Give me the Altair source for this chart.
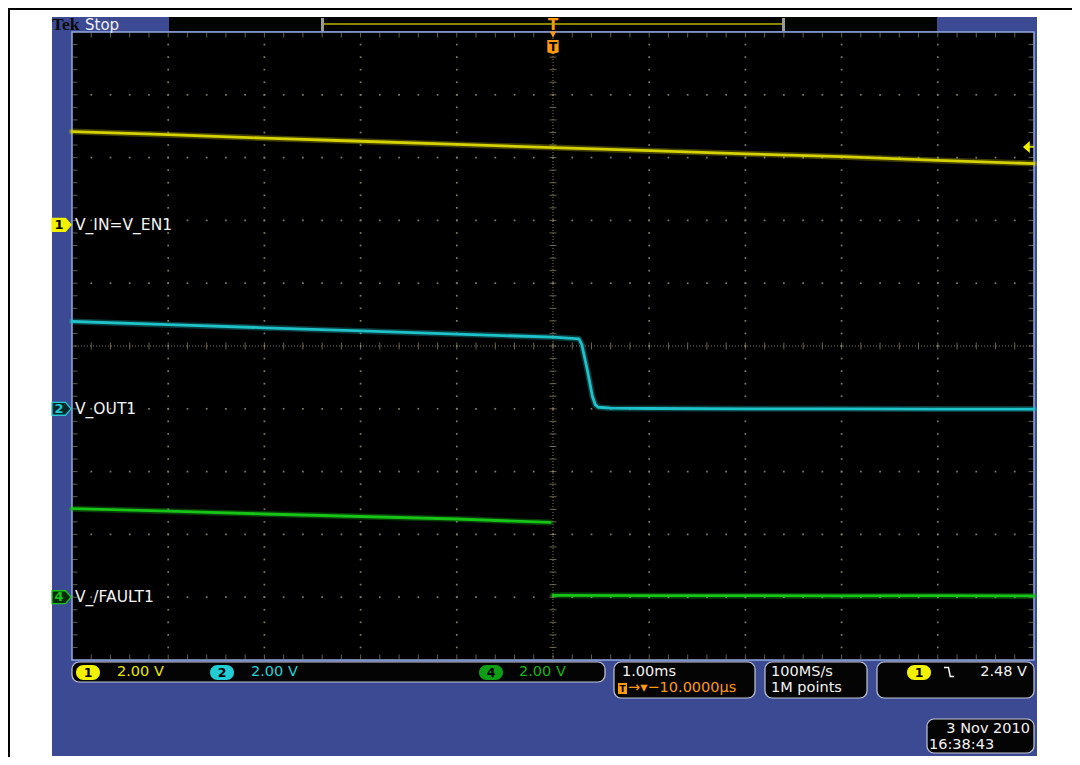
import altair as alt
import numpy as np
import pandas as pd

# ------------------------------------------------------------------
# Values
# time in ms (1.00 ms/div, trigger at t = 0), amplitudes in volts
# ------------------------------------------------------------------
t_ch1 = [-5, -4, -3, -2, -1, 0, 1, 2, 3, 4, 5]
v_ch1 = [2.97, 2.87, 2.76, 2.66, 2.56, 2.46, 2.36, 2.26, 2.17, 2.05, 1.95]

t_ch2 = [-5, -4, -3, -2, -1, 0, 0.27, 0.30, 0.36, 0.41, 0.44, 0.47, 0.6, 1, 2, 3, 4, 5]
v_ch2 = [2.78, 2.68, 2.58, 2.48, 2.38, 2.28, 2.23, 2.04, 1.19, 0.39, 0.13, 0.05, 0.02,
         0.01, 0.0, 0.0, -0.01, -0.01]

t_ch4_high = [-5, -4, -3, -2, -1, -0.03]
v_ch4_high = [2.82, 2.74, 2.65, 2.57, 2.49, 2.38]
t_ch4_low = [0.0, 1, 2, 3, 4, 5]
v_ch4_low = [0.06, 0.05, 0.05, 0.04, 0.05, 0.04]

channel_ids = ["1", "2", "4"]
channel_labels = ["V_IN=V_EN1", "V_OUT1", "V_/FAULT1"]
channel_offset_div = [1.93, -1.0, -4.0]      # ground-marker positions (divisions)
volts_per_div = [2.0, 2.0, 2.0]

trigger_level_v = 2.48
time_per_div = "1.00ms"
horiz_position = "\u221210.0000\u00b5s"
sample_rate = "100MS/s"
record_length = "1M points"
date_text = "3 Nov 2010"
time_text = "16:38:43"

# ------------------------------------------------------------------
# styling
# ------------------------------------------------------------------
W, H = 962, 628          # graticule size in px
X0, Y0 = 72, 32          # graticule top-left on the page


def px(x):
    return x - X0


def py(y):
    return y - Y0


trace_colors = ["#d6d200", "#1fc2c9", "#17c417"]
NAVY = "#3c4a94"
FONT = "DejaVu Sans"

xs = alt.Scale(domain=[-5, 5], nice=False, zero=False)
ys = alt.Scale(domain=[-5, 5], nice=False, zero=False)

one = pd.DataFrame({"k": [0]})


def box(x1, y1, x2, y2, fill, stroke="#000000", sw=0, r=0):
    return alt.Chart(one).mark_rect(
        fill=fill, stroke=stroke, strokeWidth=sw, cornerRadius=r, opacity=1
    ).encode(x=alt.value(px(x1)), x2=alt.value(px(x2)),
             y=alt.value(py(y1)), y2=alt.value(py(y2)))


def txt(s, x, y, color, size, align="left", weight="normal", font=FONT):
    return alt.Chart(one).mark_text(
        text=s, align=align, baseline="middle", color=color,
        fontSize=size, font=font, fontWeight=weight
    ).encode(x=alt.value(px(x)), y=alt.value(py(y)))


layers = []

# page frame, navy bezel, record bar, black graticule area
layers.append(box(8, 8, 1072, 10, "#000000"))
layers.append(box(8, 8, 10, 757, "#000000"))
layers.append(box(52, 17, 1037, 756, NAVY))
layers.append(box(169, 17, 937, 31, "#020402"))
layers.append(box(72, 32, 1034, 660, "#000000", stroke="#93a9e0", sw=1.5))

# ------------------------------------------------------------------
# graticule
# ------------------------------------------------------------------
subs = [round(-5 + 0.2 * k, 2) for k in range(1, 50)]
divs = [-4, -3, -2, -1, 1, 2, 3, 4]
gx, gy = [], []
for d in divs:
    for s in subs:
        gx.append(d); gy.append(s)
        gx.append(s); gy.append(d)
grid = pd.DataFrame({"gx": gx, "gy": gy})
layers.append(alt.Chart(grid).mark_square(size=3, color="#7c7c6a", opacity=1).encode(
    x=alt.X("gx:Q", scale=xs, axis=None), y=alt.Y("gy:Q", scale=ys, axis=None)))

sub_df = pd.DataFrame({"s": subs})
# centre cross (dotted)
layers.append(alt.Chart(one).mark_rule(color="#7d7560", strokeDash=[1, 2], strokeWidth=1).encode(
    x=alt.X(datum=0, scale=xs, axis=None), y=alt.Y(datum=-5, scale=ys, axis=None), y2=alt.Y2(datum=5)))
layers.append(alt.Chart(one).mark_rule(color="#7d7560", strokeDash=[1, 2], strokeWidth=1).encode(
    y=alt.Y(datum=0, scale=ys, axis=None), x=alt.X(datum=-5, scale=xs, axis=None), x2=alt.X2(datum=5)))
layers.append(alt.Chart(sub_df).mark_tick(orient="horizontal", size=7, thickness=1, color="#958c6c").encode(
    x=alt.X(datum=0, scale=xs, axis=None), y=alt.Y("s:Q", scale=ys, axis=None)))
layers.append(alt.Chart(sub_df).mark_tick(orient="vertical", size=7, thickness=1, color="#958c6c").encode(
    y=alt.Y(datum=0, scale=ys, axis=None), x=alt.X("s:Q", scale=xs, axis=None)))
# edge ticks
for edge, off in [(5, 3), (-5, -3)]:
    layers.append(alt.Chart(sub_df).mark_tick(orient="vertical", size=5, thickness=1,
                                              color="#8a8a78", yOffset=off).encode(
        y=alt.Y(datum=edge, scale=ys, axis=None), x=alt.X("s:Q", scale=xs, axis=None)))
for edge, off in [(-5, 3), (5, -3)]:
    layers.append(alt.Chart(sub_df).mark_tick(orient="horizontal", size=5, thickness=1,
                                              color="#8a8a78", xOffset=off).encode(
        x=alt.X(datum=edge, scale=xs, axis=None), y=alt.Y("s:Q", scale=ys, axis=None)))

# ------------------------------------------------------------------
# traces
# ------------------------------------------------------------------
def trace(ch, seg, ts, vs):
    i = channel_ids.index(ch)
    return pd.DataFrame({
        "channel": ch, "seg": ch + seg, "t": ts, "v": vs,
        "div": [channel_offset_div[i] + v / volts_per_div[i] for v in vs]})


traces = pd.concat([
    trace("1", "a", t_ch1, v_ch1),
    trace("2", "a", t_ch2, v_ch2),
    trace("4", "a", t_ch4_high, v_ch4_high),
    trace("4", "b", t_ch4_low, v_ch4_low),
], ignore_index=True)

color_enc = alt.Color("channel:N", scale=alt.Scale(domain=channel_ids, range=trace_colors), legend=None)
for sw, op in [(6, 0.3), (2.8, 1.0)]:
    layers.append(alt.Chart(traces).mark_line(strokeWidth=sw, opacity=op, strokeCap="round",
                                              strokeJoin="round").encode(
        x=alt.X("t:Q", scale=xs, axis=None),
        y=alt.Y("div:Q", scale=ys, axis=None),
        color=color_enc, detail="seg:N", order="t:Q"))

# ------------------------------------------------------------------
# channel ground markers and labels
# ------------------------------------------------------------------
markers = pd.DataFrame({"ch": channel_ids, "name": channel_labels, "pos": channel_offset_div})
PENT = "M-1,-0.68 L0.42,-0.68 L1,0 L0.42,0.68 L-1,0.68 Z"
marker_style = {"1": ("#f2f200", "#f2f200", "#000000"),
                "2": ("#06262a", "#22c8d0", "#22c8d0"),
                "4": ("#052a05", "#19c419", "#19c419")}
for ch in channel_ids:
    fill, stroke, tcol = marker_style[ch]
    base = alt.Chart(markers).transform_filter(alt.datum.ch == ch)
    layers.append(base.mark_point(shape=PENT, size=361, filled=True, fill=fill, stroke=stroke,
                                  strokeWidth=1.3, opacity=1).encode(
        x=alt.value(-10.5), y=alt.Y("pos:Q", scale=ys, axis=None)))
    layers.append(base.mark_text(align="center", baseline="middle", color=tcol, fontSize=13,
                                 font=FONT, fontWeight="bold").encode(
        x=alt.value(-13), y=alt.Y("pos:Q", scale=ys, axis=None), text="ch:N"))
layers.append(alt.Chart(markers).mark_text(align="left", baseline="middle", color="#f4f4f4",
                                           fontSize=15.5, font=FONT).encode(
    x=alt.value(3), y=alt.Y("pos:Q", scale=ys, axis=None), text="name:N"))

# trigger level arrow on the right edge
trig_div = channel_offset_div[0] + trigger_level_v / volts_per_div[0]
layers.append(alt.Chart(one).mark_point(shape="M0.55,-1 L-0.6,0 L0.55,1 Z", size=144, filled=True,
                                        color="#f0f000", opacity=1).encode(
    x=alt.value(px(1026.5)), y=alt.Y(datum=trig_div, scale=ys, axis=None)))
layers.append(alt.Chart(one).mark_rule(color="#f0f000", strokeWidth=1.5).encode(
    x=alt.value(px(1029)), x2=alt.value(px(1034)), y=alt.Y(datum=trig_div, scale=ys, axis=None)))

# trigger position markers (top)
layers.append(alt.Chart(one).mark_text(text="T", color="#ff9a10", fontSize=15, font=FONT,
                                       fontWeight="bold", baseline="middle", align="center").encode(
    x=alt.X(datum=0, scale=xs, axis=None), y=alt.value(py(25))))
layers.append(alt.Chart(one).mark_point(shape="triangle-down", size=45, filled=True,
                                        color="#ff9a10", opacity=1).encode(
    x=alt.X(datum=0, scale=xs, axis=None), y=alt.value(py(34.5))))
layers.append(alt.Chart(one).mark_point(shape="M-0.8,-1 L0.8,-1 L0.8,0.75 L0,1 L-0.8,0.75 Z",
                                        size=200, filled=True, color="#ff9a10", opacity=1).encode(
    x=alt.X(datum=0, scale=xs, axis=None), y=alt.value(py(47))))
layers.append(alt.Chart(one).mark_text(text="T", color="#000000", fontSize=12, font=FONT,
                                       fontWeight="bold", baseline="middle", align="center").encode(
    x=alt.X(datum=0, scale=xs, axis=None), y=alt.value(py(47))))

# record-view bar
layers.append(box(321, 18, 324, 31, "#9a9a9a"))
layers.append(box(782, 18, 785, 31, "#9a9a9a"))
layers.append(alt.Chart(one).mark_rule(color="#b8b200", strokeWidth=1.5).encode(
    x=alt.value(px(324)), x2=alt.value(px(782)), y=alt.value(py(24))))

# Tek Stop
layers.append(txt("Tek", 52, 25, "#0a0a0a", 17.5, weight="bold", font="Liberation Serif"))
layers.append(txt("Stop", 85, 25, "#f0f0f0", 15))

# ------------------------------------------------------------------
# bottom status readouts
# ------------------------------------------------------------------
BORDER = "#c4c8d4"
layers.append(box(72, 662, 605, 682, "#040404", stroke=BORDER, sw=1.2, r=7))
pill_cols = ["#f2f200", "#22ccd4", "#0e9e16"]
text_cols = ["#e8e800", "#28d0d8", "#17b417"]
pill_x = [(76, 100), (210, 234), (479, 503)]
text_x = [117, 251, 519]
for i in range(3):
    x1, x2 = pill_x[i]
    layers.append(box(x1, 665, x2, 680, pill_cols[i], r=7.5))
    layers.append(txt(channel_ids[i], (x1 + x2) / 2, 672.5, "#000000", 12.5, align="center",
                      weight="bold"))
    layers.append(txt(f"{volts_per_div[i]:.2f} V", text_x[i], 672, text_cols[i], 14.5))

layers.append(box(614, 662, 755, 698, "#040404", stroke=BORDER, sw=1.2, r=7))
layers.append(txt(time_per_div, 622, 672, "#f2f2f2", 14.5))
layers.append(box(618, 683, 627, 694, "#ff9a10"))
layers.append(txt("T", 622.5, 688.5, "#000000", 9, align="center", weight="bold"))
layers.append(txt("\u2192\u25be" + horiz_position, 628, 688, "#ff9a10", 14.5))

layers.append(box(765, 662, 867, 698, "#040404", stroke=BORDER, sw=1.2, r=7))
layers.append(txt(sample_rate, 771, 672, "#f2f2f2", 14.5))
layers.append(txt(record_length, 771, 688, "#f2f2f2", 14.5))

layers.append(box(877, 662, 1034, 698, "#040404", stroke=BORDER, sw=1.2, r=7))
layers.append(box(907, 665, 931, 680, "#f2f200", r=7.5))
layers.append(txt(channel_ids[0], 919, 672.5, "#000000", 12.5, align="center", weight="bold"))
layers.append(alt.Chart(one).mark_point(shape="M-1,-0.9 L-0.1,-0.9 L0.25,0.9 L1,0.9", size=100,
                                        filled=False, color="#f2f2f2", strokeWidth=1.5,
                                        opacity=1).encode(
    x=alt.value(px(949)), y=alt.value(py(672))))
layers.append(txt(f"{trigger_level_v:.2f} V", 1027, 672, "#f2f2f2", 14.5, align="right"))

layers.append(box(927, 719, 1034, 753, "#040404", stroke=BORDER, sw=1.2, r=7))
layers.append(txt(date_text, 1030, 729, "#f2f2f2", 14.5, align="right"))
layers.append(txt(time_text, 929, 745, "#f2f2f2", 14.5))

chart = alt.layer(*layers).properties(
    width=W, height=H, background="white",
    padding={"left": 64, "top": 24, "right": 38, "bottom": 97},
    autosize=alt.AutoSizeParams(type="none"),
).configure_view(strokeWidth=0)

chart.save("out.html", embed_options={"renderer": "svg", "actions": False})
